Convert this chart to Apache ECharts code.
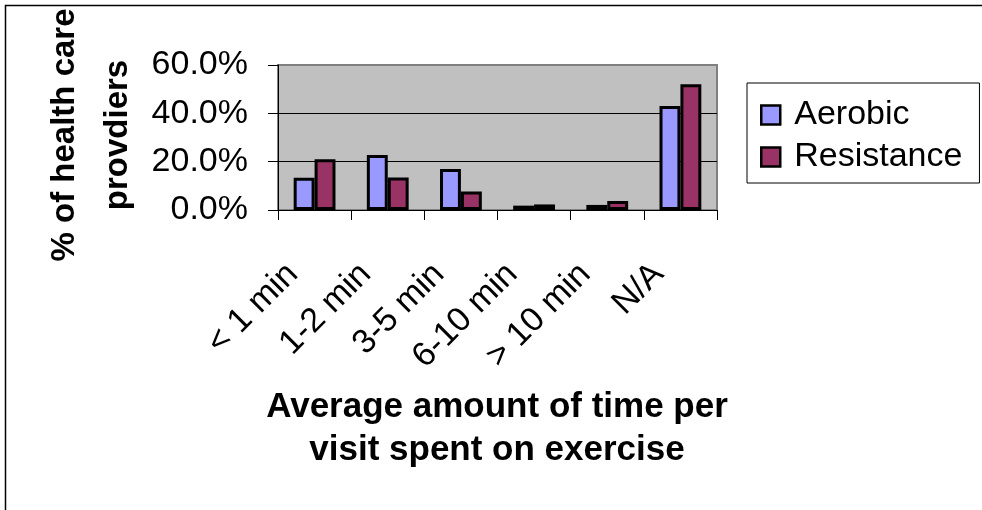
<!DOCTYPE html>
<html>
<head>
<meta charset="utf-8">
<title>Average amount of time per visit spent on exercise</title>
<script src="https://cdn.jsdelivr.net/npm/echarts@6/dist/echarts.min.js"></script>
<style>
  html, body { margin: 0; padding: 0; background: #ffffff; }
  #chart { width: 982px; height: 510px; }
</style>
</head>
<body>
<div id="chart"></div>
<script>
// Time-per-visit categories and share of providers (percent)
const categories = ['< 1 min', '1-2 min', '3-5 min', '6-10 min', '> 10 min', 'N/A'];
const aerobic = [13.3, 22.8, 17.0, 1.8, 2.1, 43.0];
const resistance = [21.0, 13.4, 7.7, 2.3, 3.7, 52.0];
const yTicks = { min: 0, max: 60, interval: 20 };
const seriesNames = ['Aerobic', 'Resistance'];

const FONT = '"Liberation Sans", Arial, Helvetica, sans-serif';
const chart = echarts.init(document.getElementById('chart'), null, { renderer: 'canvas' });

chart.setOption({
  backgroundColor: '#ffffff',
  animation: false,
  textStyle: { fontFamily: FONT, color: '#000000' },
  grid: {
    left: 278, right: 265, top: 65, bottom: 300,
    containLabel: false,
    outerBoundsMode: 'none',
    show: true,
    backgroundColor: '#C0C0C0',
    borderColor: '#808080',
    borderWidth: 2
  },
  legend: {
    orient: 'vertical',
    left: 747, top: 83,
    padding: [15, 17, 9, 13],
    itemGap: 8,
    itemWidth: 19,
    itemHeight: 19,
    icon: 'rect',
    borderColor: '#000000',
    borderWidth: 1,
    backgroundColor: '#ffffff',
    textStyle: { fontFamily: FONT, fontSize: 34, color: '#000000', padding: [0, 0, 0, 9] },
    itemStyle: { borderColor: '#000000', borderWidth: 2.5 },
    data: seriesNames
  },
  xAxis: {
    type: 'category',
    data: categories,
    boundaryGap: true,
    axisLine: { show: true, lineStyle: { color: '#000000', width: 1 } },
    axisTick: { show: true, alignWithLabel: false, length: 10, lineStyle: { color: '#000000' } },
    axisLabel: {
      interval: 0,
      rotate: 45,
      margin: 37,
      padding: [0, 31, 0, 0],
      fontFamily: FONT,
      fontSize: 34,
      color: '#000000'
    },
    splitLine: { show: false }
  },
  yAxis: {
    type: 'value',
    min: yTicks.min,
    max: yTicks.max,
    interval: yTicks.interval,
    axisLine: { show: true, lineStyle: { color: '#000000', width: 1 } },
    axisTick: { show: true, length: 10, lineStyle: { color: '#000000' } },
    axisLabel: {
      margin: 30,
      fontFamily: FONT,
      fontSize: 34,
      color: '#000000',
      formatter: function (v) { return v.toFixed(1) + '%'; }
    },
    splitLine: {
      show: true,
      lineStyle: { color: ['#000000', '#000000', '#000000', '#808080'], width: 1 }
    }
  },
  series: [
    {
      name: seriesNames[0],
      type: 'bar',
      data: aerobic,
      barGap: '0%',
      barCategoryGap: '42.86%',
      itemStyle: { color: '#9999FF', borderColor: '#000000', borderWidth: 3 }
    },
    {
      name: seriesNames[1],
      type: 'bar',
      data: resistance,
      barGap: '0%',
      barCategoryGap: '42.86%',
      itemStyle: { color: '#993366', borderColor: '#000000', borderWidth: 3 }
    }
  ],
  graphic: [
    {
      type: 'rect',
      silent: true,
      shape: { x: 5.5, y: 5.5, width: 1200, height: 1200 },
      style: { fill: 'none', stroke: '#000000', lineWidth: 1.5 },
      z: 100
    },
    {
      type: 'text',
      silent: true,
      x: 91, y: 135,
      rotation: Math.PI / 2,
      style: {
        text: '% of health care\nprovdiers',
        font: 'bold 33px ' + FONT,
        fill: '#000000',
        align: 'center',
        verticalAlign: 'middle',
        lineHeight: 53
      }
    },
    {
      type: 'text',
      silent: true,
      x: 497, y: 429,
      style: {
        text: 'Average amount of time per\nvisit spent on exercise',
        font: 'bold 35px ' + FONT,
        fill: '#000000',
        align: 'center',
        verticalAlign: 'middle',
        lineHeight: 43
      }
    }
  ]
});
</script>
</body>
</html>
